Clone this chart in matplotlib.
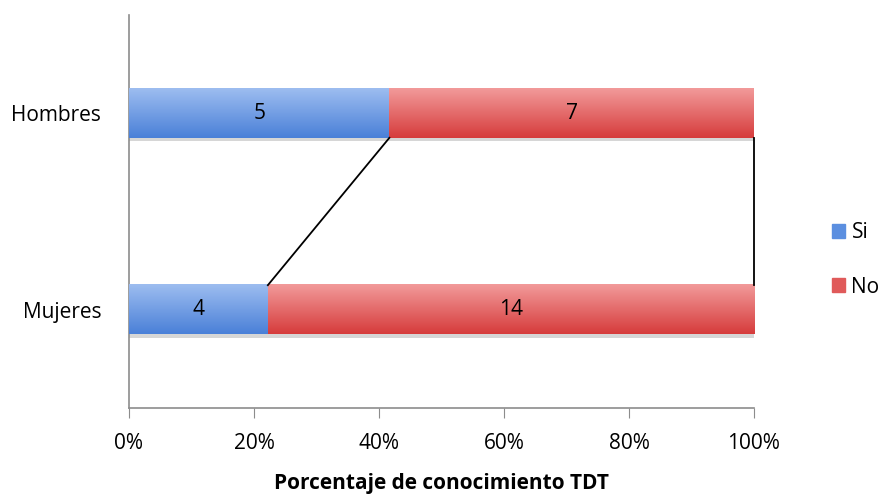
import numpy as np
import matplotlib.pyplot as plt
from matplotlib.colors import LinearSegmentedColormap
from matplotlib.ticker import PercentFormatter

# Datos
categorias = ['Mujeres', 'Hombres']
si = [4, 5]
no = [14, 7]
ticks_x = [0, 20, 40, 60, 80, 100]

plt.rcParams['font.family'] = ['Open Sans', 'DejaVu Sans']

total = np.array(si) + np.array(no)
pct_si = np.array(si) / total * 100
pct_no = np.array(no) / total * 100

fig = plt.figure(figsize=(8.81, 4.95), dpi=100)
ax = fig.add_axes([0.1464, 0.1758, 0.7094, 0.7939])

y = np.arange(len(categorias))
alto = 0.25

# sombra bajo las barras
ax.barh(y - 0.018, pct_si + pct_no, height=alto, color='#d6d6d6', zorder=1)

b1 = ax.barh(y, pct_si, height=alto, color='#5b8fe0', label='Si', zorder=2)
b2 = ax.barh(y, pct_no, left=pct_si, height=alto, color='#e05a5a', label='No', zorder=2)

# degradado tipo Excel
cmap_azul = LinearSegmentedColormap.from_list('azul', ['#9dbdf0', '#4a80d8'])
cmap_rojo = LinearSegmentedColormap.from_list('rojo', ['#f29a9a', '#d63c3c'])
grad = np.linspace(0, 1, 100).reshape(-1, 1)
for barras, cmap in [(b1, cmap_azul), (b2, cmap_rojo)]:
    for p in barras:
        x0, y0 = p.get_x(), p.get_y()
        w, h = p.get_width(), p.get_height()
        ax.imshow(grad, extent=[x0, x0 + w, y0, y0 + h], cmap=cmap,
                  aspect='auto', zorder=3, interpolation='bilinear')

# etiquetas de valores
for i in range(len(categorias)):
    ax.text(pct_si[i] / 2, y[i], str(si[i]), ha='center', va='center',
            fontsize=15, zorder=5)
    ax.text(pct_si[i] + pct_no[i] / 2, y[i], str(no[i]), ha='center',
            va='center', fontsize=15, zorder=5)

# líneas de serie
ax.plot([pct_si[1], pct_si[0]], [y[1] - alto / 2, y[0] + alto / 2],
        color='black', lw=1.3, zorder=4)
ax.plot([100, 100], [y[1] - alto / 2, y[0] + alto / 2],
        color='black', lw=1.3, zorder=4, clip_on=False)

ax.set_xlim(0, 100)
ax.set_ylim(-0.5, 1.5)
ax.set_xticks(ticks_x)
ax.xaxis.set_major_formatter(PercentFormatter(decimals=0))
ax.set_yticks(y)
ax.set_yticklabels(categorias)
ax.tick_params(axis='y', length=0, labelsize=15, pad=20)
ax.tick_params(axis='x', direction='out', length=7, color='#8c8c8c',
               labelsize=15, pad=11)
for s in ['top', 'right']:
    ax.spines[s].set_visible(False)
for s in ['left', 'bottom']:
    ax.spines[s].set_color('#8c8c8c')
    ax.spines[s].set_linewidth(1.2)

ax.set_xlabel('Porcentaje de conocimiento TDT', fontsize=15,
              fontweight='bold', labelpad=14)

h1 = plt.Rectangle((0, 0), 1, 1, color='#5b8fe0')
h2 = plt.Rectangle((0, 0), 1, 1, color='#e05a5a')
fig.legend([h1, h2], ['Si', 'No'], loc='center left',
           bbox_to_anchor=(0.944, 0.475), frameon=False, fontsize=15,
           handlelength=0.65, handleheight=0.65, handletextpad=0.3,
           labelspacing=1.6, borderpad=0, borderaxespad=0)

fig.savefig('out.png', dpi=100)
